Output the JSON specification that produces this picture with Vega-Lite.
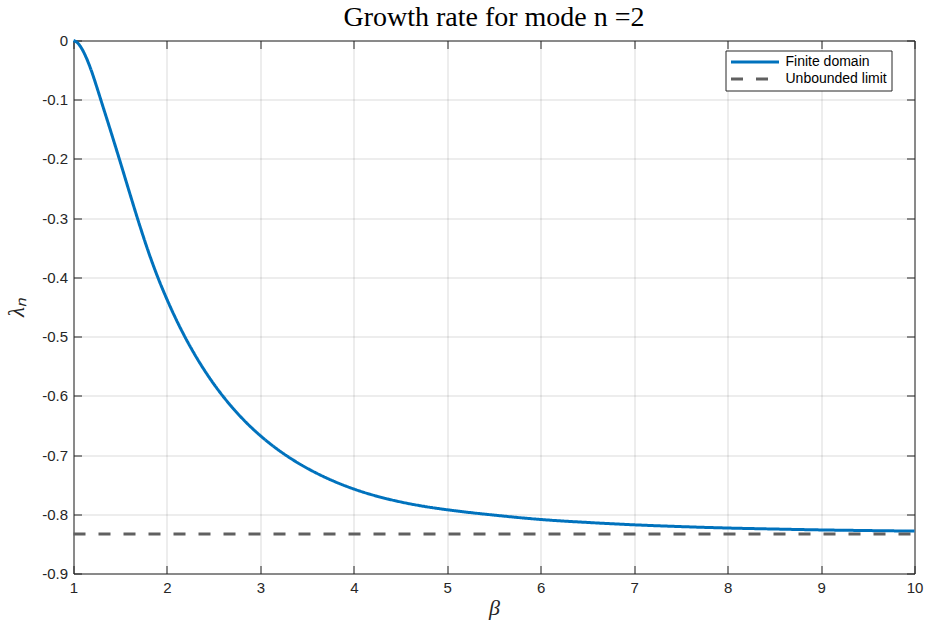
{
  "$schema": "https://vega.github.io/schema/vega-lite/v6.json",
  "width": 841,
  "height": 533,
  "autosize": {"type": "none"},
  "padding": {"left": 73.5, "top": 40.5, "right": 10.5, "bottom": 52.5},
  "background": "white",
  "title": {
    "text": "Growth rate for mode n =2",
    "font": "Liberation Serif",
    "fontSize": 28,
    "fontWeight": "normal",
    "color": "#000000",
    "offset": 2
  },
  "config": {
    "view": {"stroke": null},
    "axis": {
      "domainColor": "#262626",
      "domainWidth": 1,
      "tickColor": "#262626",
      "tickWidth": 1,
      "tickSize": -8,
      "labelFlush": false,
      "labelFont": "Liberation Sans",
      "labelFontSize": 15,
      "labelColor": "#262626",
      "gridColor": "#000000",
      "gridOpacity": 0.14,
      "gridWidth": 1,
      "titleFont": "Liberation Serif",
      "titleFontStyle": "italic",
      "titleFontWeight": "normal",
      "titleFontSize": 22,
      "titleColor": "#262626"
    }
  },
  "data": {
    "values": [
      {"beta": 1.0, "lambda": 0, "series": "Finite domain"},
      {"beta": 1.05, "lambda": -0.005, "series": "Finite domain"},
      {"beta": 1.1, "lambda": -0.017, "series": "Finite domain"},
      {"beta": 1.15, "lambda": -0.034, "series": "Finite domain"},
      {"beta": 1.2, "lambda": -0.055, "series": "Finite domain"},
      {"beta": 1.25, "lambda": -0.079, "series": "Finite domain"},
      {"beta": 1.3, "lambda": -0.104, "series": "Finite domain"},
      {"beta": 1.4, "lambda": -0.154, "series": "Finite domain"},
      {"beta": 1.5, "lambda": -0.205, "series": "Finite domain"},
      {"beta": 1.6, "lambda": -0.257, "series": "Finite domain"},
      {"beta": 1.7, "lambda": -0.308, "series": "Finite domain"},
      {"beta": 1.8, "lambda": -0.356, "series": "Finite domain"},
      {"beta": 1.9, "lambda": -0.399, "series": "Finite domain"},
      {"beta": 2.0, "lambda": -0.437, "series": "Finite domain"},
      {"beta": 2.1, "lambda": -0.4715, "series": "Finite domain"},
      {"beta": 2.2, "lambda": -0.5027, "series": "Finite domain"},
      {"beta": 2.3, "lambda": -0.5309, "series": "Finite domain"},
      {"beta": 2.4, "lambda": -0.5565, "series": "Finite domain"},
      {"beta": 2.5, "lambda": -0.5797, "series": "Finite domain"},
      {"beta": 2.6, "lambda": -0.6007, "series": "Finite domain"},
      {"beta": 2.7, "lambda": -0.6198, "series": "Finite domain"},
      {"beta": 2.8, "lambda": -0.6372, "series": "Finite domain"},
      {"beta": 2.9, "lambda": -0.653, "series": "Finite domain"},
      {"beta": 3.0, "lambda": -0.6673, "series": "Finite domain"},
      {"beta": 3.2, "lambda": -0.6923, "series": "Finite domain"},
      {"beta": 3.4, "lambda": -0.7131, "series": "Finite domain"},
      {"beta": 3.6, "lambda": -0.7305, "series": "Finite domain"},
      {"beta": 3.8, "lambda": -0.7451, "series": "Finite domain"},
      {"beta": 4.0, "lambda": -0.7573, "series": "Finite domain"},
      {"beta": 4.25, "lambda": -0.7696, "series": "Finite domain"},
      {"beta": 4.5, "lambda": -0.7791, "series": "Finite domain"},
      {"beta": 4.75, "lambda": -0.7866, "series": "Finite domain"},
      {"beta": 5.0, "lambda": -0.7924, "series": "Finite domain"},
      {"beta": 5.5, "lambda": -0.8014, "series": "Finite domain"},
      {"beta": 6.0, "lambda": -0.8088, "series": "Finite domain"},
      {"beta": 6.5, "lambda": -0.8138, "series": "Finite domain"},
      {"beta": 7.0, "lambda": -0.8178, "series": "Finite domain"},
      {"beta": 7.5, "lambda": -0.8208, "series": "Finite domain"},
      {"beta": 8.0, "lambda": -0.8232, "series": "Finite domain"},
      {"beta": 8.5, "lambda": -0.8249, "series": "Finite domain"},
      {"beta": 9.0, "lambda": -0.8264, "series": "Finite domain"},
      {"beta": 9.5, "lambda": -0.8275, "series": "Finite domain"},
      {"beta": 10.0, "lambda": -0.8284, "series": "Finite domain"},
      {"beta": 1.0, "lambda": -0.83333, "series": "Unbounded limit"},
      {"beta": 10.0, "lambda": -0.83333, "series": "Unbounded limit"}
    ]
  },
  "layer": [
    {
      "mark": {"type": "line", "strokeWidth": 3, "interpolate": "monotone"},
      "encoding": {
        "x": {
          "field": "beta",
          "type": "quantitative",
          "scale": {"domain": [1, 10], "nice": false, "zero": false},
          "axis": {
            "orient": "bottom",
            "values": [1, 2, 3, 4, 5, 6, 7, 8, 9, 10],
            "format": "d",
            "grid": true,
            "labelFlush": false,
            "labelPadding": 15,
            "title": "β",
            "titlePadding": 2
          }
        },
        "y": {
          "field": "lambda",
          "type": "quantitative",
          "scale": {"domain": [-0.9, 0], "nice": false, "zero": false},
          "axis": {
            "orient": "left",
            "values": [0, -0.1, -0.2, -0.3, -0.4, -0.5, -0.6, -0.7, -0.8, -0.9],
            "labelExpr": "datum.value == 0 ? '0' : '-' + format(-datum.value, '.1f')",
            "grid": true,
            "labelFlush": false,
            "labelPadding": 14,
            "title": "λₙ",
            "titleFontSize": 23,
            "titlePadding": 13
          }
        },
        "color": {
          "field": "series",
          "type": "nominal",
          "scale": {"domain": ["Finite domain", "Unbounded limit"], "range": ["#0072BD", "#606060"]},
          "legend": {
            "orient": "none",
            "legendX": 652,
            "legendY": 10,
            "title": null,
            "labelFont": "Liberation Sans",
            "labelFontSize": 14,
            "labelColor": "#000000",
            "symbolType": "M-4,0H4",
            "symbolSize": 144,
            "symbolStrokeWidth": 3,
            "symbolOffset": 18,
            "labelOffset": 23,
            "strokeColor": "#262626",
            "fillColor": "white",
            "padding": 4,
            "rowPadding": 2
          }
        },
        "strokeDash": {
          "field": "series",
          "type": "nominal",
          "scale": {"domain": ["Finite domain", "Unbounded limit"], "range": [[1, 0], [12, 13]]},
          "legend": {
            "orient": "none",
            "legendX": 652,
            "legendY": 10,
            "title": null,
            "labelFont": "Liberation Sans",
            "labelFontSize": 14,
            "labelColor": "#000000",
            "symbolType": "M-4,0H4",
            "symbolSize": 144,
            "symbolStrokeWidth": 3,
            "symbolOffset": 18,
            "labelOffset": 23,
            "strokeColor": "#262626",
            "fillColor": "white",
            "padding": 4,
            "rowPadding": 2
          }
        }
      }
    },
    {
      "mark": {"type": "point", "opacity": 0},
      "encoding": {
        "x": {
          "field": "beta",
          "type": "quantitative",
          "axis": {
            "orient": "top",
            "values": [1, 2, 3, 4, 5, 6, 7, 8, 9, 10],
            "labels": false,
            "grid": false,
            "title": null
          }
        },
        "y": {
          "field": "lambda",
          "type": "quantitative",
          "axis": {
            "orient": "right",
            "values": [0, -0.1, -0.2, -0.3, -0.4, -0.5, -0.6, -0.7, -0.8, -0.9],
            "labels": false,
            "grid": false,
            "title": null
          }
        }
      }
    }
  ],
  "resolve": {"axis": {"x": "independent", "y": "independent"}}
}
